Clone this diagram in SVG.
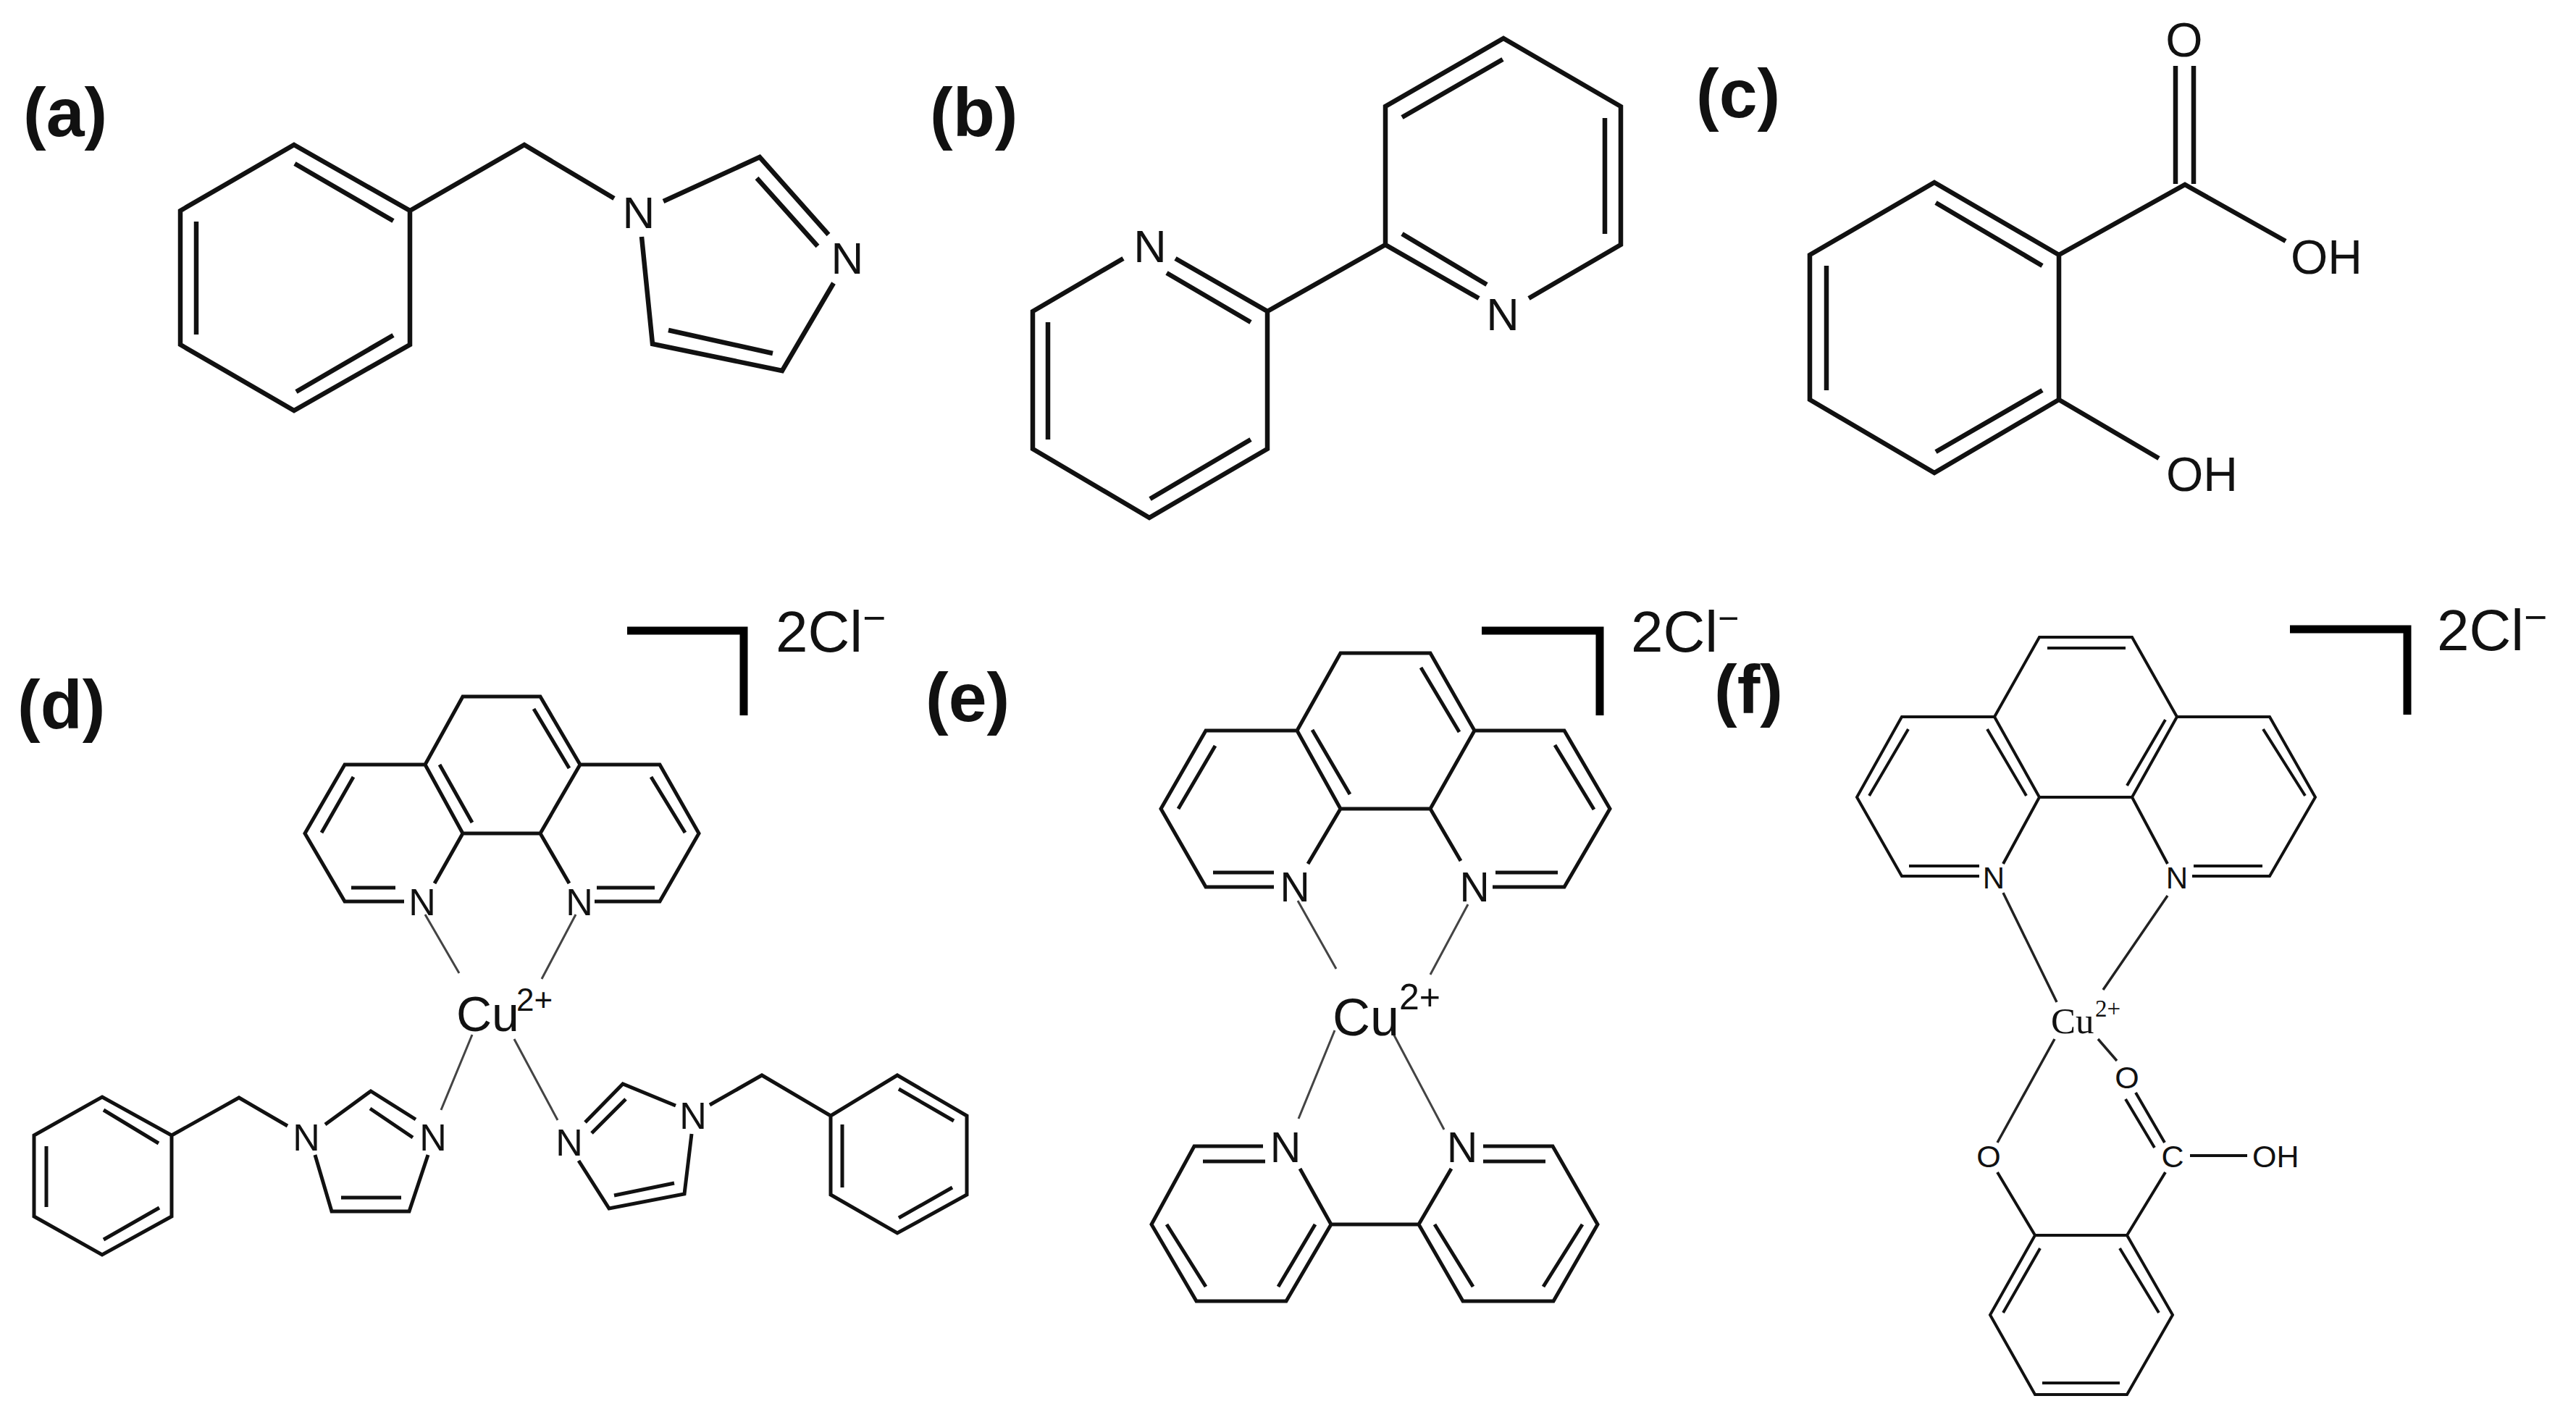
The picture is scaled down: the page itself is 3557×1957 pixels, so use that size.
<svg xmlns="http://www.w3.org/2000/svg" width="3557" height="1957" viewBox="0 0 3557 1957">
<style>
text{font-family:"Liberation Sans",Arial,sans-serif;fill:#111}
.lab{font-size:95px;font-weight:bold}
.a{text-anchor:middle}
.s{fill:none;stroke:#111;stroke-linejoin:miter}
.w1{stroke-width:6.5px}
.w2{stroke-width:5px}
.w3{stroke-width:4px}
.thin{fill:none;stroke:#444;stroke-width:3px}
.thin2{fill:none;stroke:#222;stroke-width:3.5px}
.br{fill:none;stroke:#000;stroke-width:11px;stroke-linejoin:miter}
.ion{font-size:80px}
.times{font-family:"Liberation Serif","Times New Roman",serif}
</style>
<rect width="3557" height="1957" fill="#fff"/>
<g id="labels">
<text class="lab" x="32" y="188">(a)</text>
<text class="lab" x="1284" y="188">(b)</text>
<text class="lab" x="2342" y="162">(c)</text>
<text class="lab" x="24" y="1006">(d)</text>
<text class="lab" x="1278" y="996">(e)</text>
<text class="lab" x="2367" y="985">(f)</text>
</g>
<g id="mol-a">
<path class="s w1" d="M406 200L566 291V476L406 567L249 476V291ZM407 226L543 305M543 463L409 541M271 306V462M566 291L724 200L848 274M916 278L1049 217L1144 324M1045 246L1129 340M1151 391L1080 512L901 475L886 327M1067 488L923 456"/>
<text class="a" x="882" y="315" font-size="62">N</text>
<text class="a" x="1170" y="378" font-size="62">N</text>
</g>
<g id="mol-b">
<path class="s w1" d="M1551 357L1426 430V620L1587 715L1750 620V430L1623 357M1611 377L1727 445M1727 607L1588 689M1447 445V607M1750 430L1913 338M2042 412L1913 338V147L2076 53L2238 147V338L2111 412M1936 323L2053 393M1936 162L2075 82M2216 163V323"/>
<text class="a" x="1588" y="362" font-size="63">N</text>
<text class="a" x="2075" y="456" font-size="63">N</text>
</g>
<g id="mol-c">
<path class="s w1" d="M2671 252L2843 352V552L2671 653L2499 552V352ZM2673 280L2820 367M2820 539L2673 624M2522 367V539M2843 352L3017 255L3156 333M3004 254V91M3029 254V91M2843 552L2981 633"/>
<text class="a" x="3016" y="78" font-size="66">O</text>
<text x="3163" y="378" font-size="66">OH</text>
<text x="2991" y="678" font-size="66">OH</text>
</g>
<g id="mol-d">
<path class="s w2" d="M558 1245H476L421 1151L476 1056H587L639 962H746L801 1056H911L965 1151L911 1245H821M485 1226H546M488 1073L444 1150M824 1226H904M899 1073L946 1150M587 1056L639 1151H746L801 1056M607 1056L652 1136M737 979L786 1061M639 1151L600 1220M746 1151L786 1220"/>
<path class="thin" d="M587 1263L634 1344M795 1263L748 1352M652 1429L609 1533M710 1435L770 1547"/>
<text class="a" x="583" y="1264" font-size="52">N</text>
<text class="a" x="800" y="1264" font-size="52">N</text>
<text x="630" y="1424" font-size="68">Cu</text>
<text x="713" y="1396" font-size="44">2+</text>
<path class="s w2" d="M141 1515L237 1568V1680L141 1733L47 1680V1568ZM143 1533L219 1579M220 1668L143 1712M64 1583V1667M237 1568L330 1516L397 1555M449 1553L512 1507L574 1546M511 1531L570 1571M591 1595L565 1673H458L435 1595M471 1654H554"/>
<text class="a" x="423" y="1589" font-size="52">N</text>
<text class="a" x="598" y="1589" font-size="52">N</text>
<path class="s w2" d="M1239 1485L1335 1541V1650L1239 1703L1147 1650V1541ZM1241 1504L1317 1548M1315 1640L1241 1682M1163 1553V1640M1147 1541L1052 1485L980 1526M933 1527L860 1497L808 1550M864 1518L817 1565M799 1603L841 1669L945 1649L955 1566M848 1651L931 1634"/>
<text class="a" x="786" y="1596" font-size="52">N</text>
<text class="a" x="957" y="1559" font-size="52">N</text>
<path class="br" d="M866 871H1027V988"/>
<text class="ion" x="1071" y="900">2Cl<tspan font-size="55" dy="-28">−</tspan></text>
</g>
<g id="mol-e">
<path class="s w2" d="M1759 1225H1665L1603 1117L1665 1009H1791L1851 902H1975L2036 1009H2160L2223 1117L2160 1225H2061M1675 1205H1759M1678 1030L1627 1117M2065 1205H2151M2147 1029L2201 1118M1791 1009L1851 1117H1975L2036 1009M1812 1008L1864 1097M1962 922L2015 1011M1851 1117L1806 1193M1975 1117L2017 1189"/>
<path class="thin" d="M1792 1244L1845 1338M2027 1249L1975 1346M1843 1423L1793 1545M1923 1426L1994 1560"/>
<text class="a" x="1788" y="1245" font-size="57">N</text>
<text class="a" x="2036" y="1245" font-size="57">N</text>
<text x="1840" y="1430" font-size="72">Cu</text>
<text x="1932" y="1394" font-size="50">2+</text>
<path class="s w2" d="M1744 1583H1649L1590 1691L1652 1797H1776L1838 1691L1795 1614M1661 1604H1747M1611 1691L1665 1777M1765 1777L1816 1691M1838 1691H1959M2004 1614L1959 1691L2020 1797H2145L2206 1691L2144 1583H2048M2048 1604H2134M2185 1691L2131 1777M2034 1777L1981 1691"/>
<text class="a" x="1775" y="1605" font-size="59">N</text>
<text class="a" x="2019" y="1605" font-size="59">N</text>
<path class="br" d="M2046 871H2209V988"/>
<text class="ion" x="2252" y="900">2Cl<tspan font-size="50" dy="-29">−</tspan></text>
</g>
<g id="mol-f">
<path class="s w3" d="M2733 1210H2626L2564 1101L2626 990H2754L2816 880H2944L3006 990H3134L3197 1101L3134 1210H3027M2636 1196H2733M2635 1007L2581 1099M3029 1196H3124M3125 1007L3183 1099M2754 990L2816 1101H2944L3006 990M2744 1007L2798 1099M2937 1085L2990 994M2827 895H2935M2816 1101L2766 1193M2944 1101L2993 1193"/>
<path class="thin2" d="M2766 1233L2840 1384M2993 1237L2904 1367M2837 1435L2758 1578M2897 1435L2923 1465"/>
<text class="a" x="2753" y="1227" font-size="42">N</text>
<text class="a" x="3006" y="1227" font-size="42">N</text>
<text class="times" x="2832" y="1427" font-size="51">Cu</text>
<text class="times" x="2893" y="1404" font-size="33">2+</text>
<text class="a" x="2937" y="1503" font-size="43">O</text>
<text class="a" x="3000" y="1612" font-size="43">C</text>
<text x="3110" y="1612" font-size="43">OH</text>
<text class="a" x="2746" y="1612" font-size="43">O</text>
<path class="s w3" d="M2949 1509L2989 1578M2935 1518L2975 1585M3024 1596H3103M2758 1619L2810 1706H2937L2990 1619M2810 1706L2748 1816L2810 1926H2937L3000 1816L2937 1706M2817 1724L2766 1813M2927 1724L2981 1813M2820 1910H2927"/>
<path class="br" d="M3162 869H3324V987"/>
<text class="ion" x="3365" y="898">2Cl<tspan font-size="55" dy="-27">−</tspan></text>
</g>
</svg>
